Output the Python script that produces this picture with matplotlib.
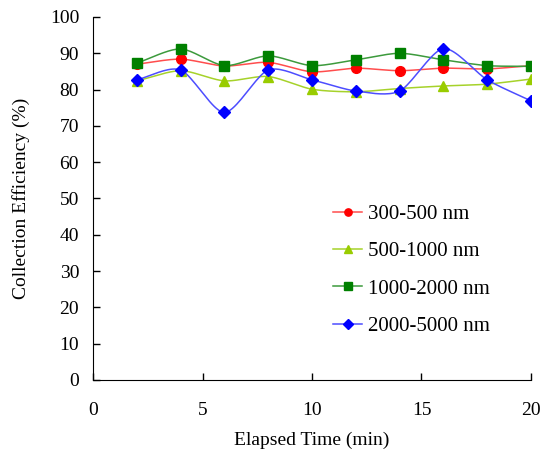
import matplotlib
matplotlib.use("Agg")
import matplotlib.pyplot as plt
import numpy as np

plt.rcParams['font.family'] = ['Liberation Serif', 'DejaVu Serif']

time_min = [2, 4, 6, 8, 10, 12, 14, 16, 18, 20]
eff_300_500 = [87.0, 88.4, 86.5, 87.5, 84.9, 85.9, 85.2, 85.9, 85.7, 86.6]
eff_500_1000 = [82.4, 85.2, 82.4, 83.6, 80.1, 79.4, 80.3, 81.0, 81.5, 82.9]
eff_1000_2000 = [87.3, 91.2, 86.6, 89.3, 86.6, 88.2, 90.0, 88.2, 86.6, 86.4]
eff_2000_5000 = [82.7, 85.4, 73.7, 85.4, 82.7, 79.6, 79.6, 91.3, 82.7, 76.9]
labels = ['300-500 nm', '500-1000 nm', '1000-2000 nm', '2000-5000 nm']


def smooth(x, y, n=20, tension=0.8):
    # catmull-rom through the points, roughly like excel's smoothed line
    x = np.asarray(x, float)
    y = np.asarray(y, float)
    px = np.concatenate([[2 * x[0] - x[1]], x, [2 * x[-1] - x[-2]]])
    py = np.concatenate([[2 * y[0] - y[1]], y, [2 * y[-1] - y[-2]]])
    xs, ys = [], []
    t = np.linspace(0, 1, n, endpoint=False)
    h00 = 2 * t**3 - 3 * t**2 + 1
    h10 = t**3 - 2 * t**2 + t
    h01 = -2 * t**3 + 3 * t**2
    h11 = t**3 - t**2
    for i in range(1, len(px) - 2):
        for p, out in ((px, xs), (py, ys)):
            m1 = tension * 0.5 * (p[i + 1] - p[i - 1])
            m2 = tension * 0.5 * (p[i + 2] - p[i])
            out.extend(h00 * p[i] + h10 * m1 + h01 * p[i + 1] + h11 * m2)
    xs.append(x[-1])
    ys.append(y[-1])
    return xs, ys


fig = plt.figure(figsize=(5.42, 4.63), dpi=100)
ax = fig.add_axes([0.1716, 0.1793, 0.8081, 0.784])

series = [
    (eff_300_500, '#FF0000', '#FF4D4D', 'o', 7),
    (eff_500_1000, '#99CC00', '#A6D22A', '^', 7.5),
    (eff_1000_2000, '#008000', '#3C9A3C', 's', 7),
    (eff_2000_5000, '#0000FF', '#4D4DFF', 'D', 6.5),
]
handles = []
for (vals, mc, lc, mk, ms), lab in zip(series, labels):
    sx, sy = smooth(time_min, vals)
    ax.plot(sx, sy, color=lc, lw=1.1, zorder=2)
    ax.plot(time_min, vals, ls='none', marker=mk, ms=ms, color=mc, zorder=3)
    h, = ax.plot([], [], color=lc, lw=1.1, marker=mk, ms=ms * 0.75,
                 markerfacecolor=mc, markeredgecolor=mc, label=lab)
    handles.append(h)

ax.set_xlim(0, 20)
ax.set_ylim(0, 100)
ax.set_xticks([0, 5, 10, 15, 20])
ax.set_yticks(range(0, 101, 10))
ax.spines['top'].set_visible(False)
ax.spines['right'].set_visible(False)
ax.tick_params(direction='in', length=5, width=1, labelsize=14)
ax.tick_params(axis='x', pad=16)
ax.tick_params(axis='y', pad=10)
ax.set_xlabel('Elapsed Time (min)', fontsize=14, labelpad=9)
ax.set_ylabel('Collection Efficiency (%)', fontsize=14, labelpad=14)

ax.legend(handles=handles, loc='upper left', bbox_to_anchor=(0.505, 0.535),
          frameon=False, fontsize=15, handlelength=1.4, labelspacing=0.85,
          handletextpad=0.3)

fig.savefig('out.png', dpi=100)
